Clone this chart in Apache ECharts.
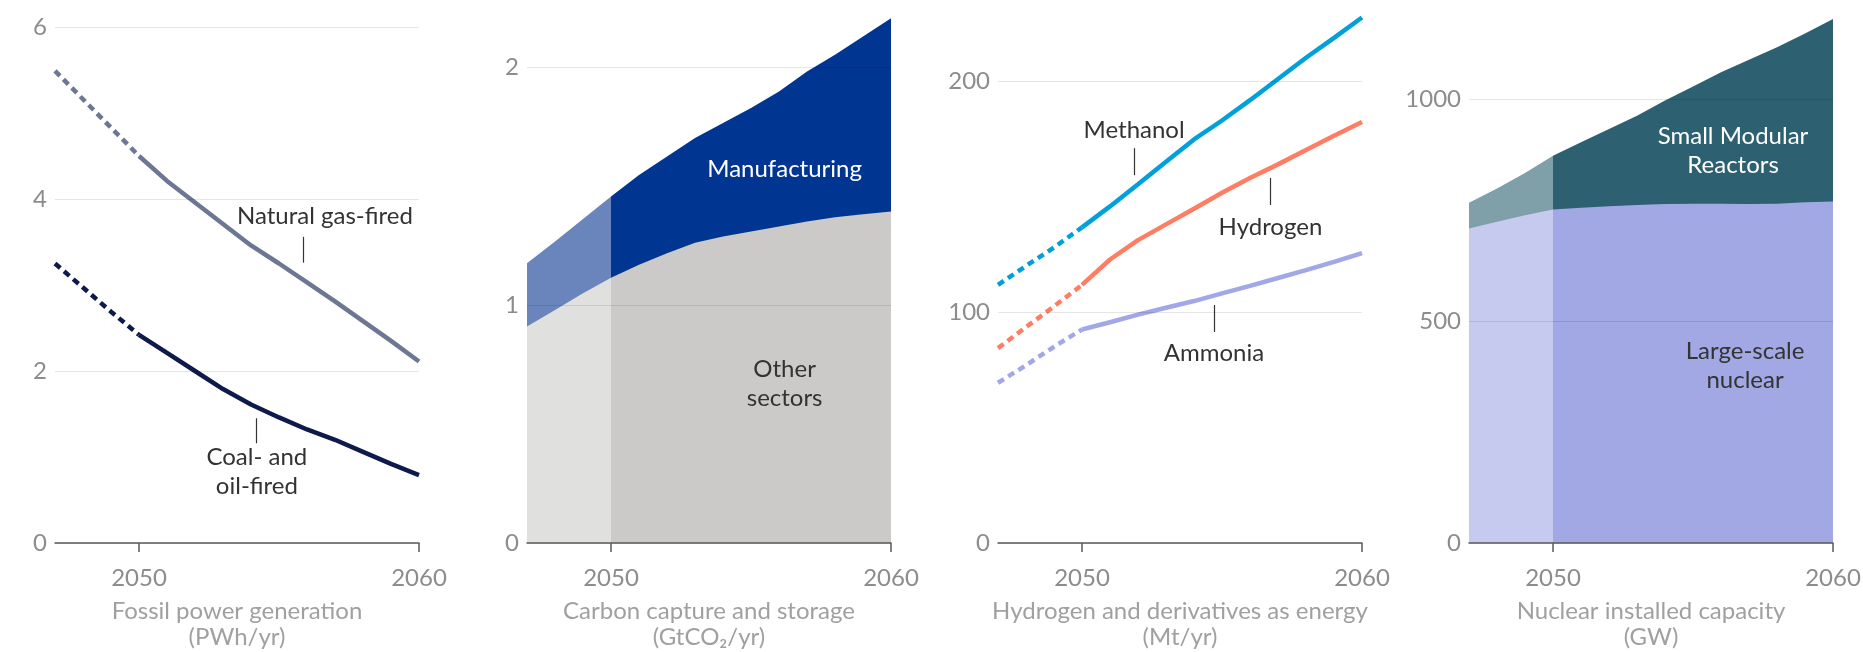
<!DOCTYPE html>
<html>
<head>
<meta charset="utf-8">
<script src="https://cdn.jsdelivr.net/npm/echarts@6.0.0/dist/echarts.min.js"></script>
<style>
  html, body { margin: 0; padding: 0; background: #fff; }
  #chart { width: 1863px; height: 652px; }
</style>
</head>
<body>
<div id="chart"></div>
<script>
// years 2047..2060, projections drawn lighter / dashed before 2050
const years = [2047, 2048, 2049, 2050, 2051, 2052, 2053, 2054, 2055, 2056, 2057, 2058, 2059, 2060];
const xTicks = [2050, 2060];

// Fossil power generation (PWh/yr)
const gasFired = [5.49, 5.16, 4.83, 4.5, 4.21, 3.96, 3.71, 3.46, 3.25, 3.03, 2.81, 2.58, 2.35, 2.11];
const coalOilFired = [3.25, 2.97, 2.69, 2.42, 2.21, 2.0, 1.79, 1.61, 1.46, 1.32, 1.2, 1.06, 0.92, 0.79];

// Carbon capture and storage (GtCO2/yr)
const ccsOther = [0.91, 0.98, 1.05, 1.116, 1.17, 1.219, 1.263, 1.289, 1.31, 1.331, 1.352, 1.37, 1.383, 1.394];
const ccsManufacturing = [0.266, 0.288, 0.313, 0.341, 0.378, 0.406, 0.44, 0.477, 0.519, 0.568, 0.631, 0.683, 0.747, 0.813];

// Hydrogen and derivatives as energy (Mt/yr)
const methanol = [111.8, 120, 128, 136.7, 145.8, 155.4, 165.1, 174.8, 183, 191.8, 201, 210.2, 218.8, 227.6];
const hydrogen = [84.4, 93.5, 102.5, 111.8, 122.8, 131.2, 138, 144.8, 151.7, 158.1, 164, 170.2, 176.4, 182.4];
const ammonia = [69.4, 77, 85, 92.5, 95.6, 98.9, 101.9, 104.8, 108.1, 111.4, 114.8, 118.2, 121.8, 125.6];

// Nuclear installed capacity (GW)
const largeNuclear = [708, 723, 738, 751, 755, 758, 761, 763, 764, 764, 763, 764, 767, 769];
const smallModular = [58, 75, 95, 121, 147, 174, 201, 233, 264, 296, 325, 352, 380, 411];

const axisNames = [
  'Fossil power generation\n(PWh/yr)',
  'Carbon capture and storage\n(GtCO₂/yr)',
  'Hydrogen and derivatives as energy\n(Mt/yr)',
  'Nuclear installed capacity\n(GW)'
];

const FONT = 'Lato, "Noto Sans", sans-serif';
const SPLIT = 2050;
const splitIdx = years.indexOf(SPLIT);

function pts(vals, part) {
  const out = years.map((y, i) => [y, vals[i]]);
  return part === 'pre' ? out.slice(0, splitIdx + 1) : out.slice(splitIdx);
}

function sum(a, b) {
  return a.map((v, i) => +(v + b[i]).toFixed(3));
}

const chart = echarts.init(document.getElementById('chart'));

const grids = [
  { left: 55, width: 364, top: 27, bottom: 109, outerBoundsMode: 'none' },
  { left: 527, width: 364, top: 8, bottom: 109, outerBoundsMode: 'none' },
  { left: 998, width: 364, top: 12, bottom: 109, outerBoundsMode: 'none' },
  { left: 1469, width: 364, top: 10, bottom: 109, outerBoundsMode: 'none' }
];

const yRanges = [
  { max: 6, interval: 2 },
  { max: 2.25, interval: 1 },
  { max: 230, interval: 100 },
  { max: 1200, interval: 500 }
];

const xAxes = grids.map((g, i) => ({
  type: 'value',
  gridIndex: i,
  min: 2047,
  max: 2060,
  z: 5,
  name: axisNames[i],
  nameLocation: 'middle',
  nameGap: 55,
  nameTextStyle: { color: '#a0a0a0', fontSize: 24, fontFamily: FONT, lineHeight: 26 },
  axisLine: { show: true, lineStyle: { color: '#5a5a5a', width: 1.5 } },
  axisTick: { show: true, length: 9, customValues: xTicks, lineStyle: { color: '#5a5a5a', width: 1.5 } },
  axisLabel: {
    customValues: xTicks, color: '#8c8c8c', fontSize: 24, fontFamily: FONT, margin: 23,
    formatter: v => String(v)
  },
  splitLine: { show: false }
}));

const yAxes = yRanges.map((r, i) => ({
  type: 'value',
  gridIndex: i,
  min: 0,
  max: r.max,
  interval: r.interval,
  z: 5,
  axisLine: { show: false },
  axisTick: { show: false },
  axisLabel: {
    color: '#8c8c8c', fontSize: 24, fontFamily: FONT, margin: 8,
    showMaxLabel: r.max % r.interval === 0,
    formatter: v => String(v)
  },
  splitLine: { show: true, showMaxLine: r.max % r.interval === 0, lineStyle: { color: 'rgba(0,0,0,0.1)', width: 1 } }
}));

function lineSeries(idx, vals, color, part) {
  return {
    type: 'line',
    xAxisIndex: idx,
    yAxisIndex: idx,
    data: pts(vals, part),
    symbol: 'none',
    silent: true,
    lineStyle: { color: color, width: 4.5, type: part === 'pre' ? [7, 5] : 'solid', cap: 'butt' }
  };
}

function areaSeries(idx, vals, color, part) {
  return {
    type: 'line',
    xAxisIndex: idx,
    yAxisIndex: idx,
    data: pts(vals, part),
    symbol: 'none',
    silent: true,
    lineStyle: { width: 0 },
    areaStyle: { color: color, opacity: 1 }
  };
}

const ccsTotal = sum(ccsOther, ccsManufacturing);
const nuclearTotal = sum(largeNuclear, smallModular);

const series = [
  lineSeries(0, gasFired, '#6d7693', 'pre'),
  lineSeries(0, gasFired, '#6d7693', 'post'),
  lineSeries(0, coalOilFired, '#0d1a4b', 'pre'),
  lineSeries(0, coalOilFired, '#0d1a4b', 'post'),

  areaSeries(1, ccsTotal, '#6985bc', 'pre'),
  areaSeries(1, ccsTotal, '#003591', 'post'),
  areaSeries(1, ccsOther, '#e0e0df', 'pre'),
  areaSeries(1, ccsOther, '#cbcac8', 'post'),

  lineSeries(2, ammonia, '#a2a7e8', 'pre'),
  lineSeries(2, ammonia, '#a2a7e8', 'post'),
  lineSeries(2, hydrogen, '#ff7d63', 'pre'),
  lineSeries(2, hydrogen, '#ff7d63', 'post'),
  lineSeries(2, methanol, '#00a0db', 'pre'),
  lineSeries(2, methanol, '#00a0db', 'post'),

  areaSeries(3, nuclearTotal, '#7f9fa9', 'pre'),
  areaSeries(3, nuclearTotal, '#2d6071', 'post'),
  areaSeries(3, largeNuclear, '#c7caef', 'pre'),
  areaSeries(3, largeNuclear, '#a1a8e3', 'post')
];

chart.setOption({
  animation: false,
  backgroundColor: '#fff',
  textStyle: { fontFamily: FONT },
  grid: grids,
  xAxis: xAxes,
  yAxis: yAxes,
  series: series
});

// labels anchored in data space: [grid, text, year, value, colour, pointer [year, from, to]]
const notes = [
  [0, 'Natural gas-fired', 2056.64, 3.8, '#333', [2055.86, 3.56, 3.26]],
  [0, 'Coal- and\noil-fired', 2054.21, 0.83, '#333', [2054.18, 1.45, 1.16]],
  [1, 'Manufacturing', 2056.2, 1.57, '#fff', null],
  [1, 'Other\nsectors', 2056.2, 0.67, '#333', null],
  [2, 'Methanol', 2051.86, 178.8, '#333', [2051.86, 171, 159.3]],
  [2, 'Hydrogen', 2056.73, 136.9, '#333', [2056.73, 158.1, 146.4]],
  [2, 'Ammonia', 2054.71, 82.3, '#333', [2054.71, 103.1, 91.4]],
  [3, 'Small Modular\nReactors', 2056.43, 884, '#fff', null],
  [3, 'Large-scale\nnuclear', 2056.86, 399, '#333', null]
];

const graphics = [];
notes.forEach(n => {
  const p = chart.convertToPixel({ gridIndex: n[0] }, [n[2], n[3]]);
  graphics.push({
    type: 'text',
    silent: true,
    z: 10,
    style: {
      text: n[1], x: p[0], y: p[1], fill: n[4],
      font: '24px ' + FONT, align: 'center', verticalAlign: 'middle', lineHeight: 29
    }
  });
  if (n[5]) {
    const a = chart.convertToPixel({ gridIndex: n[0] }, [n[5][0], n[5][1]]);
    const b = chart.convertToPixel({ gridIndex: n[0] }, [n[5][0], n[5][2]]);
    graphics.push({
      type: 'line',
      silent: true,
      z: 10,
      shape: { x1: Math.round(a[0]) + 0.5, y1: a[1], x2: Math.round(b[0]) + 0.5, y2: b[1] },
      style: { stroke: '#333', lineWidth: 1.2 }
    });
  }
});

chart.setOption({ graphic: graphics });
</script>
</body>
</html>
